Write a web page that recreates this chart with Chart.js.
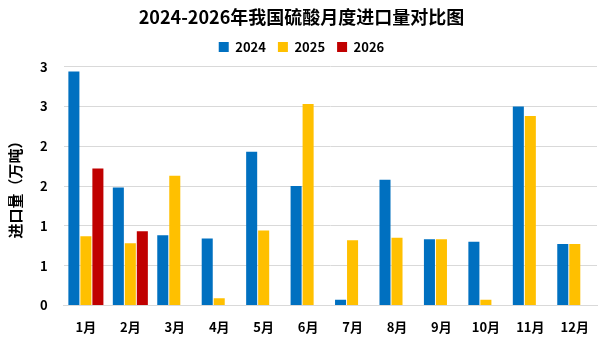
<!DOCTYPE html>
<html>
<head>
<meta charset="utf-8">
<script src="https://cdn.jsdelivr.net/npm/chart.js@4.4.1/dist/chart.umd.min.js"></script>
<style>
  html, body { margin: 0; padding: 0; background: #fff; }
  #wrap { width: 605px; height: 340px; }
</style>
</head>
<body>
<div id="wrap"><canvas id="chart_sulfuricAcidImport"></canvas></div>
<script>
// categories and series (unit: 万吨)
var months = ['1月', '2月', '3月', '4月', '5月', '6月', '7月', '8月', '9月', '10月', '11月', '12月'];
var import2024 = [2.94, 1.48, 0.88, 0.84, 1.93, 1.50, 0.07, 1.58, 0.83, 0.80, 2.50, 0.77];
var import2025 = [0.87, 0.78, 1.63, 0.09, 0.94, 2.53, 0.82, 0.85, 0.83, 0.07, 2.38, 0.77];
var import2026 = [1.72, 0.93, null, null, null, null, null, null, null, null, null, null];

var fontFamily = '"Microsoft YaHei", "Noto Sans CJK SC", sans-serif';

Chart.defaults.font.family = fontFamily;
Chart.defaults.color = '#000';

var chart_sulfuricAcidImport = new Chart(document.getElementById('chart_sulfuricAcidImport'), {
    type: 'bar',
    data: {
        labels: months,
        datasets: [
            { label: '2024', data: import2024, backgroundColor: '#0070C0' },
            { label: '2025', data: import2025, backgroundColor: '#FFC000' },
            { label: '2026', data: import2026, backgroundColor: '#C00000' }
        ]
    },
    options: {
        animation: false,
        responsive: true,
        maintainAspectRatio: false,
        categoryPercentage: 0.81,
        barPercentage: 0.92,
        layout: { padding: { left: 6, right: 8, top: 2, bottom: -1 } },
        plugins: {
            title: {
                display: true,
                text: '2024-2026年我国硫酸月度进口量对比图',
                font: { size: 18, weight: 'bold' },
                padding: { top: 4, bottom: 1 }
            },
            legend: {
                position: 'top',
                labels: {
                    boxWidth: 10,
                    boxHeight: 10,
                    padding: 12,
                    font: { size: 13, weight: 'bold' }
                }
            },
            tooltip: { enabled: false }
        },
        scales: {
            x: {
                grid: { display: false },
                border: { color: '#d9d9d9' },
                ticks: { font: { size: 13, weight: 'bold' }, padding: 6 }
            },
            y: {
                min: 0,
                max: 3,
                ticks: {
                    stepSize: 0.5,
                    font: { size: 13, weight: 'bold' },
                    padding: 16,
                    callback: function (v) { return Math.round(v); }
                },
                grid: { color: '#d9d9d9', drawTicks: false },
                border: { display: false },
                title: {
                    display: true,
                    text: '进口量（万吨）',
                    font: { size: 15, weight: 'bold' },
                    padding: { top: 0, bottom: 0 }
                }
            }
        }
    },
    plugins: [{
        // a little more room between legend and plot area
        id: 'legendGap',
        beforeInit: function (chart) {
            var fit = chart.legend.fit;
            chart.legend.fit = function () {
                fit.bind(chart.legend)();
                this.height += 3;
            };
        }
    }]
});
</script>
</body>
</html>
